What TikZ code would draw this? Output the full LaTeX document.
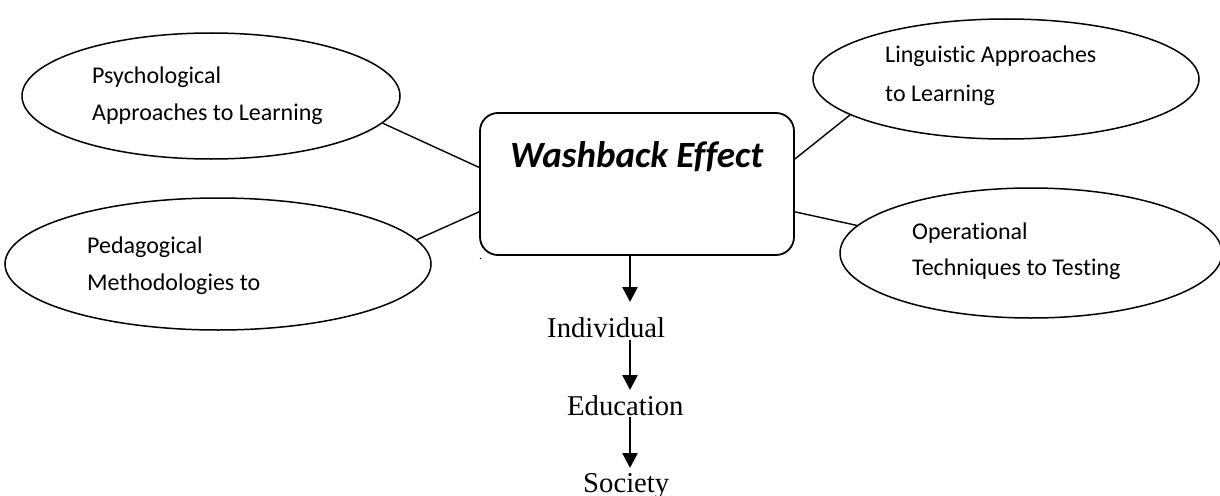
\documentclass[tikz,border=0pt]{standalone}
\usepackage{fontspec}
\setmainfont{Carlito}[Ligatures=CommonOff]
\newfontfamily\timesf{Liberation Serif}
\usetikzlibrary{shapes.geometric,arrows.meta}
\tikzset{
  oval/.style={draw, ellipse, line width=1.5pt, inner sep=0pt},
  lbl/.style={anchor=base west, inner sep=0pt, font=\fontsize{24}{29}\selectfont},
  lvl/.style={anchor=base west, inner sep=0pt, font=\timesf\fontsize{28.7}{34}\selectfont},
  link/.style={line width=1.4pt},
  arr/.style={line width=2.6pt, -{Triangle[width=15pt,length=15pt]}},
}
\begin{document}
\begin{tikzpicture}[x=1pt,y=-1pt]
\useasboundingbox (0,0) rectangle (1220,495);
% ellipses
\node[oval, minimum width=378pt, minimum height=126pt] (psy) at (211,96) {};
\node[oval, minimum width=386pt, minimum height=120pt] (lin) at (1006,79) {};
\node[oval, minimum width=426pt, minimum height=132pt] (ped) at (218,264) {};
\node[oval, minimum width=382pt, minimum height=130pt] (ope) at (1031,253) {};
% central box
\node[draw, line width=1.8pt, rounded corners=18pt, minimum width=314pt, minimum height=142pt, inner sep=0pt] (box) at (637,184) {};
\node[anchor=base west, inner sep=0pt, font=\bfseries\itshape\fontsize{37}{44}\selectfont] (wash) at (510,167) {Washback Effect};
\node[anchor=base west, inner sep=0pt, font=\timesf\fontsize{12}{14}\selectfont] (dot) at (479,259) {.};
% ellipse texts
\node[lbl] (psy1) at (92,83) {Psychological};
\node[lbl] (psy2) at (92,120) {Approaches to Learning};
\node[lbl] (lin1) at (885,63) {Linguistic Approaches};
\node[lbl] (lin2) at (885,101) {to Learning};
\node[lbl] (ped1) at (87,253) {Pedagogical};
\node[lbl] (ped2) at (87,290) {Methodologies to};
\node[lbl] (ope1) at (912,239) {Operational};
\node[lbl] (ope2) at (912,275) {Techniques to Testing};
% connectors
\draw[link] (psy.-9.6) -- (box.174.2);
\draw[link] (ped.7) -- (box.190.1);
\draw[link] (lin.-167.2) -- (box.9);
\draw[link] (ope.171.4) -- (box.-10.1);
% levels
\node[lvl] (ind) at (547,337) {Individual};
\node[lvl] (edu) at (567,415) {Education};
\node[lvl] (soc) at (583,492) {Society};
\coordinate (ax) at (630,0);
\coordinate (a1) at (630,302);
\coordinate (a2s) at (630,340);
\coordinate (a2) at (630,390);
\coordinate (a3s) at (630,417);
\coordinate (a3) at (630,468);
\draw[arr] (box.south -| ax) -- (a1);
\draw[arr] (a2s) -- (a2);
\draw[arr] (a3s) -- (a3);
\end{tikzpicture}
\end{document}
